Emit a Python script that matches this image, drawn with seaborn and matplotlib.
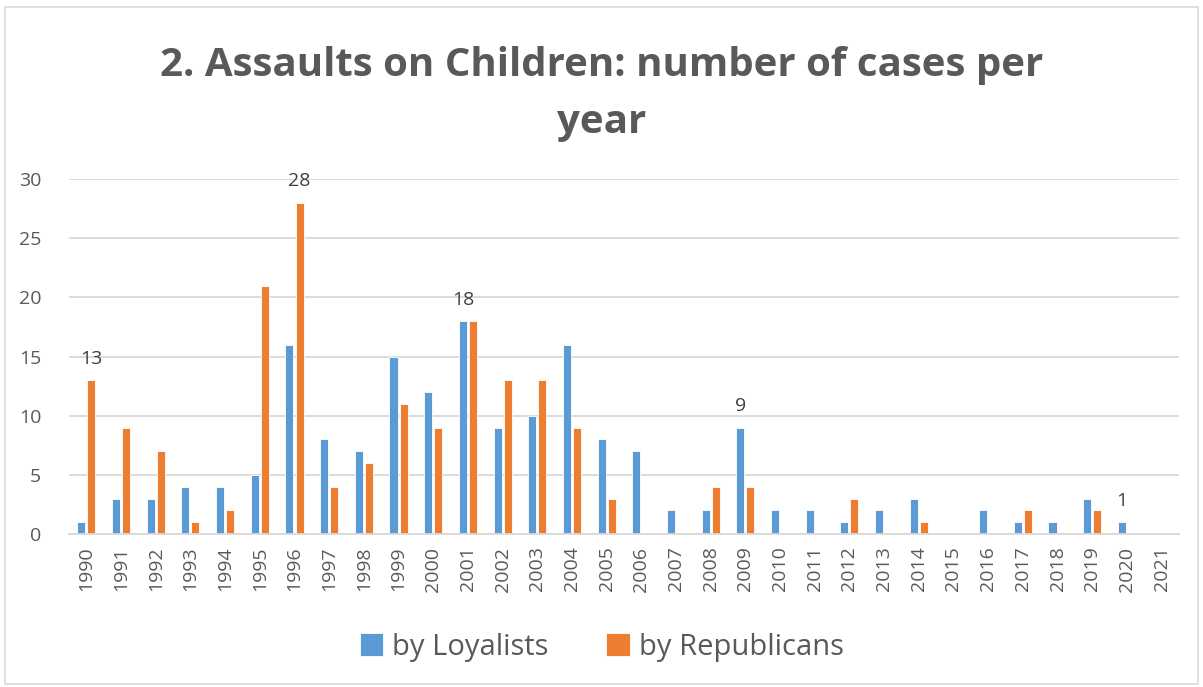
import matplotlib
matplotlib.use("Agg")
import matplotlib.pyplot as plt
import seaborn as sns
import pandas as pd

# values
years = [str(y) for y in range(1990, 2022)]
loyalists = [1, 3, 3, 4, 4, 5, 16, 8, 7, 15, 12, 18, 9, 10, 16, 8,
             7, 2, 2, 9, 2, 2, 1, 2, 3, 0, 2, 1, 1, 3, 1, 0]
republicans = [13, 9, 7, 1, 2, 21, 28, 4, 6, 11, 9, 18, 13, 13, 9, 3,
               0, 0, 4, 4, 0, 0, 3, 0, 1, 0, 0, 2, 0, 2, 0, 0]
series_names = ["by Loyalists", "by Republicans"]
# which bars carry a data label (year, series)
labelled = {("1990", "by Republicans"), ("1996", "by Republicans"),
            ("2001", "by Loyalists"), ("2009", "by Loyalists"),
            ("2020", "by Loyalists")}

df = pd.DataFrame({
    "Year": years * 2,
    "Cases": loyalists + republicans,
    "Series": [series_names[0]] * len(years) + [series_names[1]] * len(years),
})

sns.set_style("white")
plt.rcParams["font.family"] = ["Open Sans", "DejaVu Sans"]
text_col = "#595959"
grid_col = "#D9D9D9"

fig = plt.figure(figsize=(12.03, 6.87), dpi=100)
ax = fig.add_axes([0.0574, 0.2227, 0.9226, 0.5167])

sns.barplot(data=df, x="Year", y="Cases", hue="Series", hue_order=series_names,
            palette=["#5B9BD5", "#ED7D31"], saturation=1, width=0.58, gap=0.2,
            edgecolor="white", linewidth=0.6, ax=ax)

ax.set_ylim(0, 30)
ax.set_xlim(-0.5, len(years) - 0.5)
ax.set_yticks(range(0, 31, 5))
ax.yaxis.grid(True, color=grid_col, linewidth=1.3)
ax.set_axisbelow(True)
for s in ["top", "right", "left"]:
    ax.spines[s].set_visible(False)
ax.spines["bottom"].set_color(grid_col)
ax.spines["bottom"].set_linewidth(1.3)
ax.tick_params(axis="both", length=0, colors=text_col, labelsize=14)
ax.tick_params(axis="y", pad=20)
ax.tick_params(axis="x", pad=9)
plt.setp(ax.get_xticklabels(), rotation=90)
ax.set_xlabel("")
ax.set_ylabel("")

for cont, name in zip(ax.containers, series_names):
    vals = loyalists if name == series_names[0] else republicans
    labs = [str(v) if (y, name) in labelled else "" for y, v in zip(years, vals)]
    ax.bar_label(cont, labels=labs, padding=9, fontsize=14, color="#404040")

fig.suptitle("2. Assaults on Children: number of cases per\nyear", y=0.933,
             fontsize=29, fontweight="bold", color=text_col, linespacing=1.6)

handles, lbls = ax.get_legend_handles_labels()
ax.legend_.remove()
fig.legend(handles, lbls, loc="center", bbox_to_anchor=(0.5, 0.058), ncol=2,
           frameon=False, fontsize=21, labelcolor=text_col, handlelength=0.8,
           handleheight=0.8, handletextpad=0.3, columnspacing=2.0)

fig.patches.append(plt.Rectangle((0.004, 0.005), 0.992, 0.985, transform=fig.transFigure,
                                 fill=False, edgecolor=grid_col, linewidth=1.2))

fig.savefig("out.png", dpi=100)
